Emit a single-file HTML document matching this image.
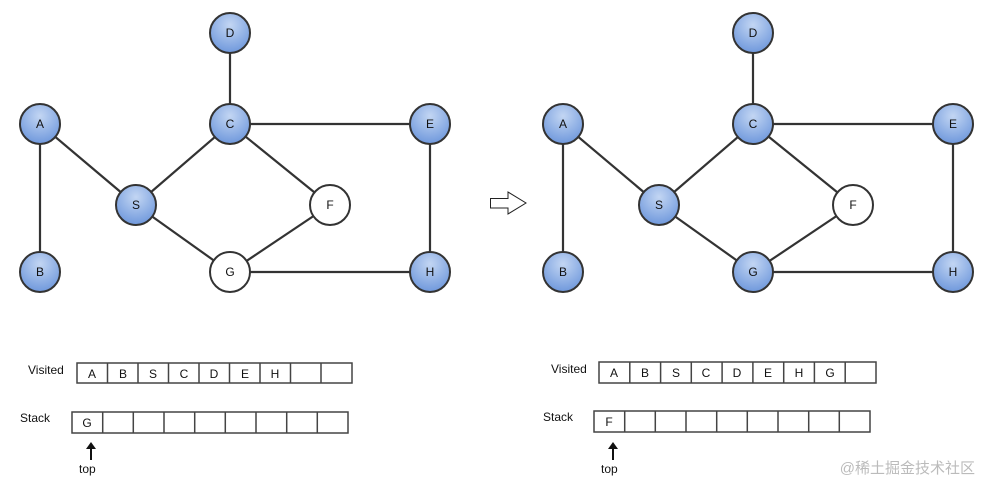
<!DOCTYPE html>
<html><head><meta charset="utf-8"><style>
html,body{margin:0;padding:0;background:#fff;}
svg{display:block}
text{font-family:"Liberation Sans","Noto Sans CJK SC",sans-serif;}
</style></head><body>
<svg width="982" height="484" viewBox="0 0 982 484" xmlns="http://www.w3.org/2000/svg">
<defs>
<radialGradient id="bl" cx="50%" cy="30%" r="70%">
<stop offset="0" stop-color="#c3d6f3"/><stop offset="1" stop-color="#6f98dc"/>
</radialGradient>
<g id="graph" stroke="#333" stroke-width="2.2">
<line x1="40" y1="124" x2="40" y2="272"/>
<line x1="40" y1="124" x2="136" y2="205"/>
<line x1="136" y1="205" x2="230" y2="124"/>
<line x1="136" y1="205" x2="230" y2="272"/>
<line x1="230" y1="33" x2="230" y2="124"/>
<line x1="230" y1="124" x2="430" y2="124"/>
<line x1="230" y1="124" x2="330" y2="205"/>
<line x1="330" y1="205" x2="230" y2="272"/>
<line x1="230" y1="272" x2="430" y2="272"/>
<line x1="430" y1="124" x2="430" y2="272"/>
</g>
</defs>
<use href="#graph"/>
<use href="#graph" x="523"/>
<g stroke="#333" stroke-width="2" font-size="12" text-anchor="middle">
<g fill="url(#bl)">
<circle cx="40" cy="124" r="20"/><circle cx="40" cy="272" r="20"/><circle cx="230" cy="33" r="20"/>
<circle cx="230" cy="124" r="20"/><circle cx="136" cy="205" r="20"/><circle cx="430" cy="124" r="20"/>
<circle cx="430" cy="272" r="20"/>
<circle cx="563" cy="124" r="20"/><circle cx="563" cy="272" r="20"/><circle cx="753" cy="33" r="20"/>
<circle cx="753" cy="124" r="20"/><circle cx="659" cy="205" r="20"/><circle cx="953" cy="124" r="20"/>
<circle cx="953" cy="272" r="20"/><circle cx="753" cy="272" r="20"/>
</g>
<g fill="#fff">
<circle cx="330" cy="205" r="20"/><circle cx="230" cy="272" r="20"/><circle cx="853" cy="205" r="20"/>
</g>
<g stroke="none" fill="#111">
<text x="40" y="128">A</text><text x="40" y="276">B</text><text x="230" y="37">D</text><text x="230" y="128">C</text>
<text x="136" y="209">S</text><text x="430" y="128">E</text><text x="430" y="276">H</text><text x="330" y="209">F</text><text x="230" y="276">G</text>
<text x="563" y="128">A</text><text x="563" y="276">B</text><text x="753" y="37">D</text><text x="753" y="128">C</text>
<text x="659" y="209">S</text><text x="953" y="128">E</text><text x="953" y="276">H</text><text x="853" y="209">F</text><text x="753" y="276">G</text>
</g>
</g>
<path d="M490.5,198.5 H508 V192 L526,203 L508,214 V208 H490.5 Z" fill="#fff" stroke="#222" stroke-width="1"/>
<g font-size="12" fill="#111">
<text x="28" y="374">Visited</text><text x="20" y="422">Stack</text>
<text x="551" y="373">Visited</text><text x="543" y="421">Stack</text>
<text x="79" y="473">top</text><text x="601" y="473">top</text>
</g>
<g fill="none" stroke="#444" stroke-width="1.5">
<rect x="77" y="363" width="275" height="20"/>
<rect x="72" y="412" width="276" height="21"/>
<rect x="599" y="362" width="277" height="21"/>
<rect x="594" y="411" width="276" height="21"/>
<path d="M107.5 363v20M138 363v20M168.5 363v20M199 363v20M229.5 363v20M260 363v20M290.5 363v20M321 363v20"/>
<path d="M102.7 412v21M133.3 412v21M164 412v21M194.7 412v21M225.3 412v21M256 412v21M286.7 412v21M317.3 412v21"/>
<path d="M629.8 362v21M660.6 362v21M691.3 362v21M722.1 362v21M752.9 362v21M783.7 362v21M814.4 362v21M845.2 362v21"/>
<path d="M624.7 411v21M655.3 411v21M686 411v21M716.7 411v21M747.3 411v21M778 411v21M808.7 411v21M839.3 411v21"/>
</g>
<g font-size="12" fill="#111" text-anchor="middle">
<text x="92" y="378">A</text><text x="123" y="378">B</text><text x="153" y="378">S</text><text x="184" y="378">C</text><text x="214" y="378">D</text><text x="245" y="378">E</text><text x="275" y="378">H</text>
<text x="87" y="427">G</text>
<text x="614" y="377">A</text><text x="645" y="377">B</text><text x="676" y="377">S</text><text x="706" y="377">C</text><text x="737" y="377">D</text><text x="768" y="377">E</text><text x="799" y="377">H</text><text x="830" y="377">G</text>
<text x="609" y="426">F</text>
</g>
<g stroke="#111" stroke-width="2" fill="#111">
<line x1="91" y1="446" x2="91" y2="460"/><path d="M86 449 L91 442 L96 449 Z" stroke="none"/>
<line x1="613" y1="446" x2="613" y2="460"/><path d="M608 449 L613 442 L618 449 Z" stroke="none"/>
</g>
<text x="975" y="473" font-size="15" fill="#bbb" text-anchor="end">@稀土掘金技术社区</text>
</svg>
</body></html>
